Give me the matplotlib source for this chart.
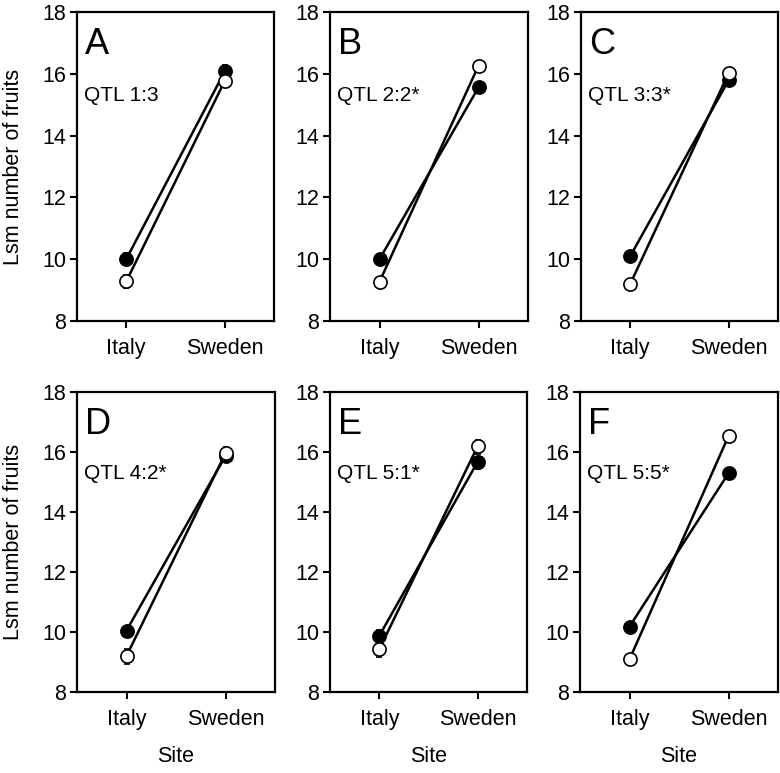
import matplotlib
matplotlib.use("Agg")
import matplotlib.pyplot as plt

plt.rcParams['font.family'] = ['Liberation Sans', 'DejaVu Sans']

sites = ["Italy", "Sweden"]
letters = ["A", "B", "C", "D", "E", "F"]
qtl_labels = ["QTL 1:3", "QTL 2:2*", "QTL 3:3*", "QTL 4:2*", "QTL 5:1*", "QTL 5:5*"]

# filled circles (one genotype), open circles (other genotype)
filled_means = [[10.0, 16.08], [10.0, 15.56], [10.1, 15.8], [10.05, 15.87], [9.87, 15.68], [10.18, 15.29]]
filled_err = [[0.2, 0.2], [0.15, 0.15], [0.15, 0.15], [0.15, 0.15], [0.2, 0.25], [0.15, 0.15]]
open_means = [[9.28, 15.77], [9.27, 16.26], [9.2, 16.03], [9.2, 15.96], [9.42, 16.2], [9.09, 16.53]]
open_err = [[0.2, 0.15], [0.15, 0.15], [0.15, 0.15], [0.25, 0.2], [0.25, 0.2], [0.15, 0.15]]

yticks = [8, 10, 12, 14, 16, 18]

W, H = 780, 773
fig = plt.figure(figsize=(W / 100, H / 100), dpi=100)

# pixel boxes (left, top, right, bottom)
boxes = [(77, 12, 274, 321), (330, 12, 528, 321), (581, 12, 778, 321),
         (77, 392, 275, 692), (330, 392, 527, 692), (580, 392, 778, 692)]

x = [0, 1]
for i, (l, t, r, b) in enumerate(boxes):
    ax = fig.add_axes([l / W, 1 - b / H, (r - l) / W, (b - t) / H])
    ax.errorbar(x, filled_means[i], yerr=filled_err[i], color='black', lw=1.8,
                marker='o', ms=9.5, mfc='black', mec='black', mew=1.2,
                capsize=2.5, elinewidth=1.0, zorder=3)
    ax.errorbar(x, open_means[i], yerr=open_err[i], color='black', lw=1.8,
                marker='o', ms=9.5, mfc='white', mec='black', mew=1.2,
                capsize=2.5, elinewidth=1.0, zorder=4)
    ax.set_xlim(-0.5, 1.5)
    ax.set_ylim(8, 18)
    ax.set_yticks(yticks)
    ax.set_xticks(x)
    ax.set_xticklabels(sites)
    ax.tick_params(axis='both', direction='out', length=5, width=1.5,
                   labelsize=15.5, top=False, right=False)
    ax.tick_params(axis='x', pad=7)
    ax.tick_params(axis='y', pad=3)
    for s in ax.spines.values():
        s.set_linewidth(1.6)
    ax.text(0.04, 0.95, letters[i], transform=ax.transAxes, fontsize=26,
            va='top', ha='left')
    ax.text(0.035, 15.3, qtl_labels[i], transform=ax.get_yaxis_transform(),
            fontsize=15, va='center', ha='left')
    if i in (0, 3):
        ax.set_ylabel("Lsm number of fruits", fontsize=15.5)
        ax.yaxis.set_label_coords(-0.27, 0.5)
    if i >= 3:
        ax.set_xlabel("Site", fontsize=15.5)
        ax.xaxis.set_label_coords(0.5, -0.18)

fig.savefig("out.png", dpi=100)
